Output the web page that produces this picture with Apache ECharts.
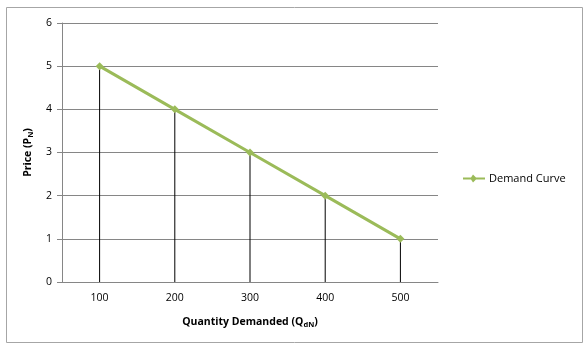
<!DOCTYPE html>
<html><head><meta charset="utf-8">
<script src="https://cdn.jsdelivr.net/npm/echarts@6/dist/echarts.min.js"></script>
<style>html,body{margin:0;padding:0;background:#fff}#c{width:588px;height:350px}</style>
</head><body><div id="c"></div>
<script>
const quantities = ['100','200','300','400','500'];
const prices = [5, 4, 3, 2, 1];
const seriesName = 'Demand Curve';
const yTicks = [0, 6, 1];

const chart = echarts.init(document.getElementById('c'));
const font = '"Open Sans", sans-serif';
chart.setOption({
  animation: false,
  backgroundColor: '#fff',
  graphic: [{type:'rect', shape:{x:6.5,y:7.5,width:576,height:335}, style:{fill:null, stroke:'#a6a6a6', lineWidth:1}}],
  grid: {left: 62, right: 150, top: 23, bottom: 68},
  legend: {
    data: [{name: seriesName, icon: 'path://M0,4 L8,4 L10,1 L13,4 L22,4 L22,6 L13,6 L10,9 L8,6 L0,6 Z'}],
    left: 458, top: 168, orient: 'vertical', itemWidth: 28, itemHeight: 8, itemGap: 4,
    textStyle: {fontFamily: font, fontSize: 11, color: '#000', padding: [0,0,0,-4]}
  },
  xAxis: {
    type: 'category', data: quantities, boundaryGap: true,
    name: '{a|Quantity Demanded (Q}{s|dN}{a|)}', nameLocation: 'middle', nameGap: 33,
    nameTextStyle: {rich: {a: {fontFamily: font, fontSize: 10.5, fontWeight: 'bold', color: '#000'}, s: {fontFamily: font, fontSize: 7.5, fontWeight: 'bold', color: '#000', verticalAlign: 'bottom', padding:[6,0,0,0]}}},
    axisLine: {lineStyle: {color: '#868686'}},
    axisTick: {show: false},
    axisLabel: {fontFamily: font, fontSize: 10.5, color: '#000', margin: 11}
  },
  yAxis: {
    type: 'value', min: yTicks[0], max: yTicks[1], interval: yTicks[2],
    name: '{a|Price (P}{s|N}{a|)}', nameLocation: 'middle', nameGap: 24, nameRotate: 90,
    nameTextStyle: {rich: {a: {fontFamily: font, fontSize: 10.5, fontWeight: 'bold', color: '#000'}, s: {fontFamily: font, fontSize: 7.5, fontWeight: 'bold', color: '#000', padding:[6,0,0,0]}}},
    axisLine: {show: true, lineStyle: {color: '#868686'}},
    axisTick: {show: true, length: 5, lineStyle: {color: '#868686'}},
    splitLine: {lineStyle: {color: '#868686'}},
    axisLabel: {fontFamily: font, fontSize: 10.5, color: '#000', margin: 10}
  },
  series: [
    {type: 'bar', name: 'drop', data: prices, barWidth: 1, itemStyle: {color: '#000'}, silent: true, z: 1},
    {type: 'line', name: seriesName, data: prices, symbol: 'diamond', symbolSize: 8,
     lineStyle: {color: '#9bbb59', width: 3}, itemStyle: {color: '#9bbb59'}, z: 3}
  ]
});
</script></body></html>
